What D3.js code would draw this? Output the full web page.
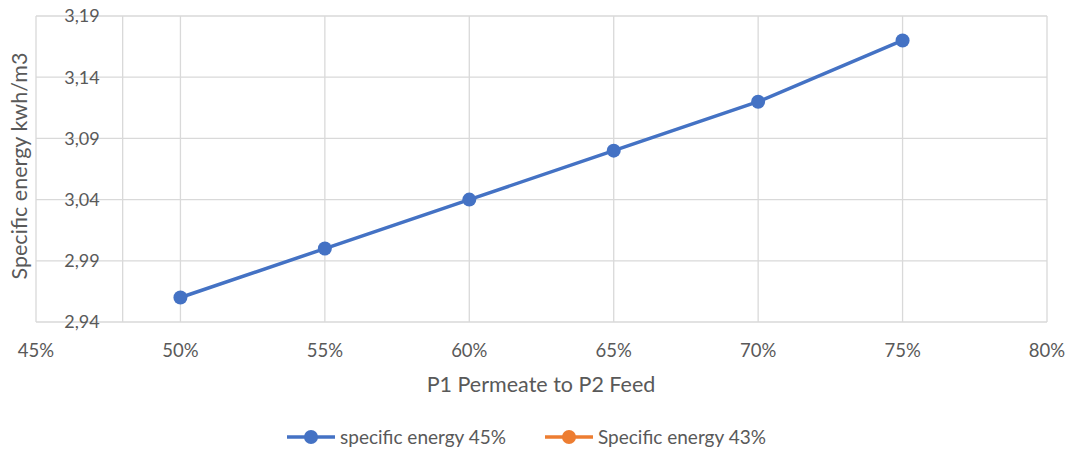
<!DOCTYPE html>
<html><head><meta charset="utf-8">
<script src="https://cdn.jsdelivr.net/npm/d3@7"></script>
<style>body{margin:0;background:#fff}svg{display:block}</style>
</head><body>
<svg id="c" width="1072" height="453"></svg>
<script>
const xValues = [0.50, 0.55, 0.60, 0.65, 0.70, 0.75];
const series45 = [2.96, 3.00, 3.04, 3.08, 3.12, 3.17];
const series43 = [];
const xTicks = [0.45, 0.50, 0.55, 0.60, 0.65, 0.70, 0.75, 0.80];
const yTicks = [2.94, 2.99, 3.04, 3.09, 3.14, 3.19];
const seriesNames = ["specific energy 45%", "Specific energy 43%"];
const colors = ["#4472C4", "#ED7D31"];
const xTitle = "P1 Permeate to P2 Feed";
const yTitle = "Specific energy kwh/m3";

const svg = d3.select("#c");
const font = "Lato, 'Open Sans', sans-serif";
const textColor = "#595959";
const L = 36, R = 1047, T = 16, B = 322;
const x = d3.scaleLinear().domain([0.45, 0.80]).range([L, R]);
const y = d3.scaleLinear().domain([2.94, 3.19]).range([B, T]);
const grid = "#d9d9d9";

// gridlines
svg.append("g").selectAll("line.h").data(yTicks).join("line")
  .attr("x1", L).attr("x2", R).attr("y1", d => y(d)).attr("y2", d => y(d))
  .attr("stroke", grid).attr("stroke-width", 1.3);
svg.append("g").selectAll("line.v").data(xTicks).join("line")
  .attr("y1", T).attr("y2", B).attr("x1", d => x(d)).attr("x2", d => x(d))
  .attr("stroke", grid).attr("stroke-width", 1.3);
// y axis line crossing at 48%
const yCross = 0.48;
svg.append("line").attr("x1", x(yCross)).attr("x2", x(yCross)).attr("y1", T).attr("y2", B)
  .attr("stroke", grid).attr("stroke-width", 1.3);

// y tick labels
const fmt = d => d3.format(".2f")(d).replace(".", ",");
svg.append("g").selectAll("text").data(yTicks).join("text")
  .attr("x", x(yCross) - 23).attr("y", d => y(d)).attr("dy", "0.35em")
  .attr("text-anchor", "end").attr("font-family", font).attr("font-size", 18)
  .attr("fill", textColor).text(fmt);
// x tick labels
svg.append("g").selectAll("text").data(xTicks).join("text")
  .attr("x", d => x(d)).attr("y", 351).attr("dy", "0.35em")
  .attr("text-anchor", "middle").attr("font-family", font).attr("font-size", 18.5)
  .attr("fill", textColor).text(d => d3.format(".0%")(d));

// titles
svg.append("text").attr("x", 541).attr("y", 384).attr("dy", "0.35em")
  .attr("text-anchor", "middle").attr("font-family", font).attr("font-size", 21.5)
  .attr("fill", textColor).text(xTitle);
svg.append("text").attr("transform", `translate(19,166) rotate(-90)`)
  .attr("dy", "0.35em").attr("text-anchor", "middle").attr("font-family", font)
  .attr("font-size", 21.5).attr("fill", textColor).text(yTitle);

// series
const data45 = xValues.map((v, i) => [v, series45[i]]);
svg.append("path").datum(data45)
  .attr("d", d3.line().x(d => x(d[0])).y(d => y(d[1])))
  .attr("fill", "none").attr("stroke", colors[0]).attr("stroke-width", 3.5)
  .attr("stroke-linejoin", "round");
svg.append("g").selectAll("circle").data(data45).join("circle")
  .attr("cx", d => x(d[0])).attr("cy", d => y(d[1])).attr("r", 7)
  .attr("fill", colors[0]);

// legend
const legX = [287, 545];
const legY = 437;
seriesNames.forEach((name, i) => {
  const g = svg.append("g").attr("transform", `translate(${legX[i]},${legY})`);
  g.append("line").attr("x1", 0).attr("x2", 48).attr("stroke", colors[i]).attr("stroke-width", 3.5);
  g.append("circle").attr("cx", 24).attr("r", 7).attr("fill", colors[i]);
  g.append("text").attr("x", 53).attr("dy", "0.35em").attr("font-family", font)
    .attr("font-size", 19).attr("fill", textColor).text(name);
});
</script>
</body></html>
